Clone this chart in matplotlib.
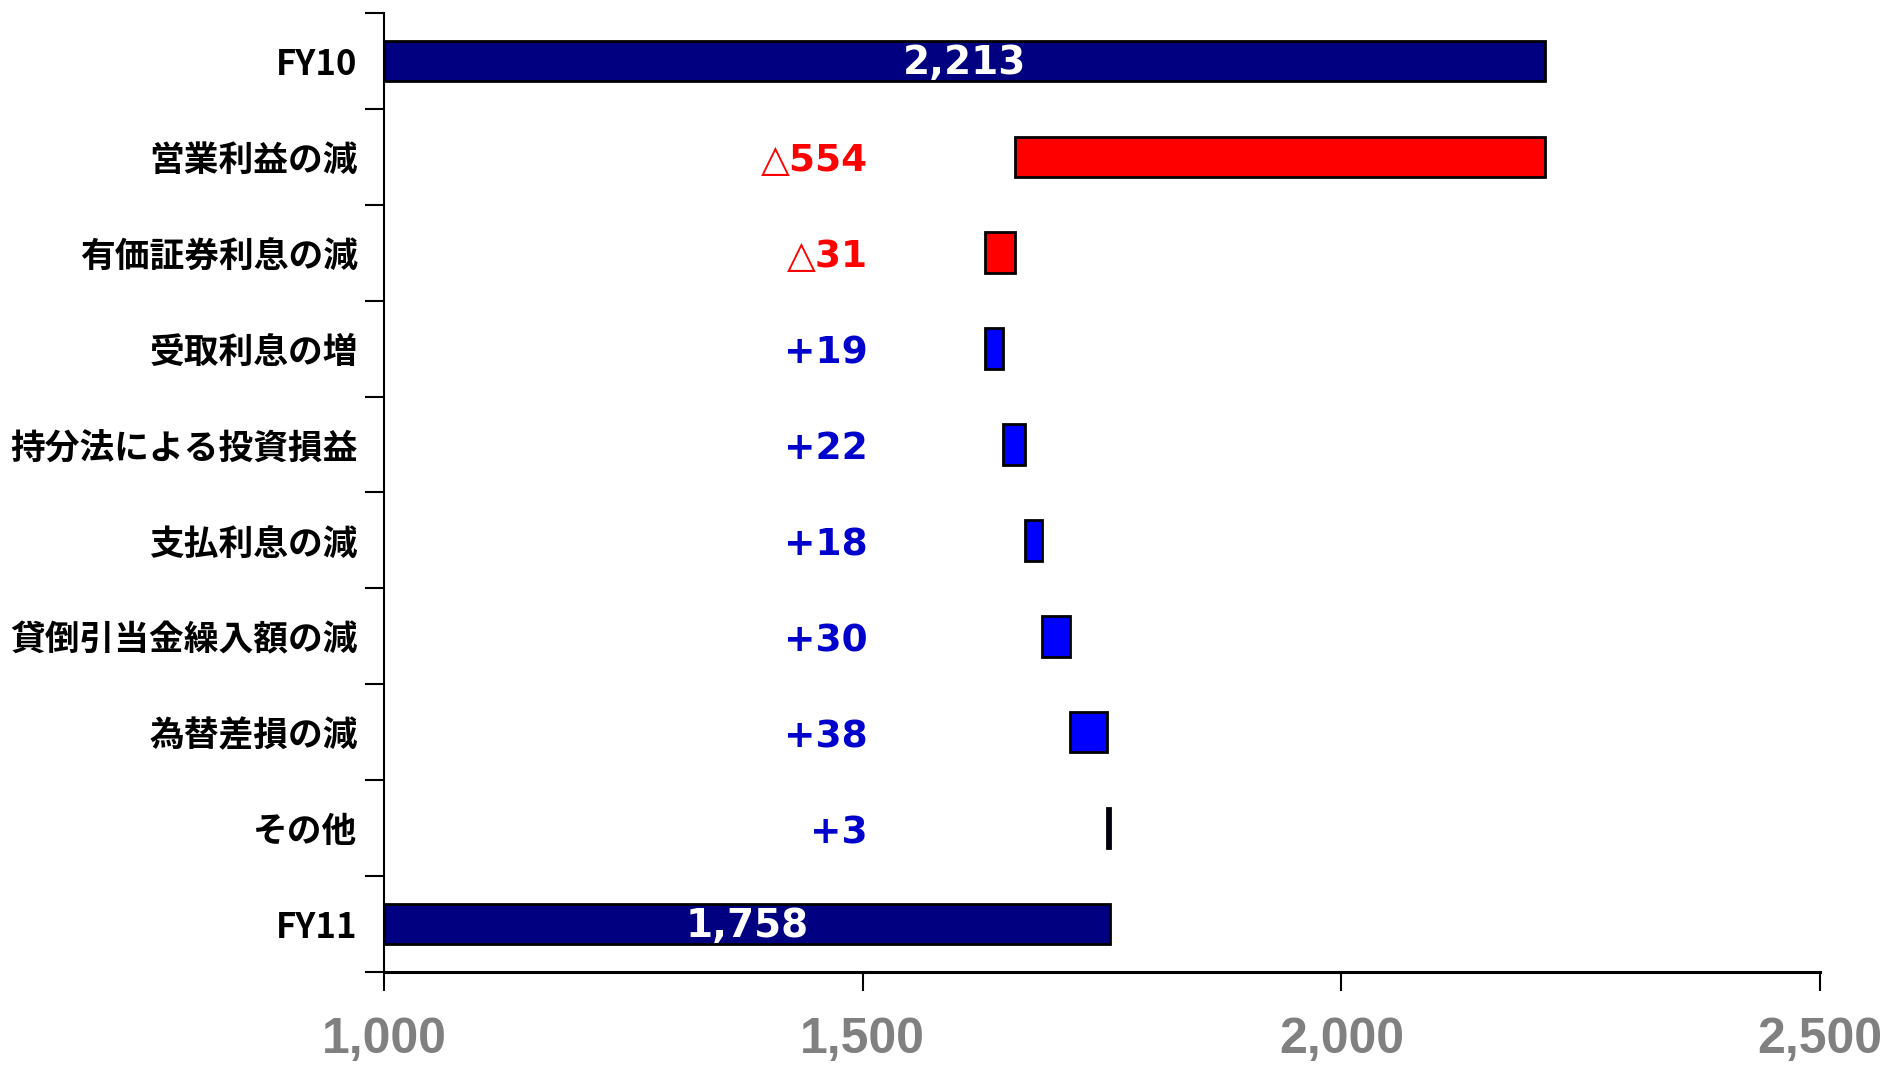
import numpy as np
import matplotlib.pyplot as plt

plt.rcParams['font.family'] = ['Noto Sans CJK JP', 'DejaVu Sans']

categories = ['FY10', '営業利益の減', '有価証券利息の減', '受取利息の増', '持分法による投資損益',
              '支払利息の減', '貸倒引当金繰入額の減', '為替差損の減', 'その他', 'FY11']
start_value = 2213
changes = [-554, -31, 19, 22, 18, 30, 38, 3]
end_value = 1758
change_labels = ['△554', '△31', '+19', '+22', '+18', '+30', '+38', '+3']
xticks = [1000, 1500, 2000, 2500]
xtick_labels = ['1,000', '1,500', '2,000', '2,500']

base = 1000
navy = '#000080'
red = '#FF0000'
blue = '#0000FF'
label_blue = '#0000CC'
bar_h = 0.42
num_font = ['DejaVu Sans', 'Noto Sans CJK JP']

fig = plt.figure(figsize=(18.92, 10.66), dpi=100)
ax = fig.add_axes([0.203, 0.088, 0.759, 0.9])

# 始点・終点のバー
ax.barh(0, start_value - base, left=base, height=bar_h, color=navy, edgecolor='black', linewidth=2)
ax.barh(len(categories) - 1, end_value - base, left=base, height=bar_h, color=navy,
        edgecolor='black', linewidth=2)
for y, v in [(0, start_value), (len(categories) - 1, end_value)]:
    ax.text((base + v) / 2, y + 0.02, f'{v:,}', ha='center', va='center', color='white',
            fontsize=28, fontweight='bold', family=num_font)

# 増減のバー
running = start_value
for i, (c, lab) in enumerate(zip(changes, change_labels)):
    y = i + 1
    left = running + c if c < 0 else running
    col = red if c < 0 else blue
    ax.barh(y, abs(c), left=left, height=bar_h, color=col, edgecolor='black', linewidth=2)
    running += c
    ax.text(1505, y + 0.05, lab, ha='right', va='center', color=red if c < 0 else label_blue,
            fontsize=27, fontweight='bold', family=num_font)

ax.set_xlim(1000, 2500)
ax.set_ylim(len(categories) - 0.5, -0.5)

ax.set_xticks(xticks)
ax.set_xticklabels(xtick_labels, color='#808080', fontsize=36, fontweight='bold',
                   family='Liberation Sans')
ax.tick_params(axis='x', direction='out', length=14, width=1.5, pad=18)

ax.set_yticks(np.arange(len(categories) + 1) - 0.5)
ax.set_yticklabels([])
ax.set_yticks(np.arange(len(categories)), minor=True)
ax.set_yticklabels(categories, minor=True, fontsize=25, fontweight='bold')
ax.tick_params(axis='y', which='major', direction='out', length=14, width=1.5)
ax.tick_params(axis='y', which='minor', length=0, pad=19)

ax.spines['top'].set_visible(False)
ax.spines['right'].set_visible(False)
ax.spines['left'].set_linewidth(1.5)
ax.spines['bottom'].set_linewidth(2.2)

plt.savefig('out.png', dpi=100)
